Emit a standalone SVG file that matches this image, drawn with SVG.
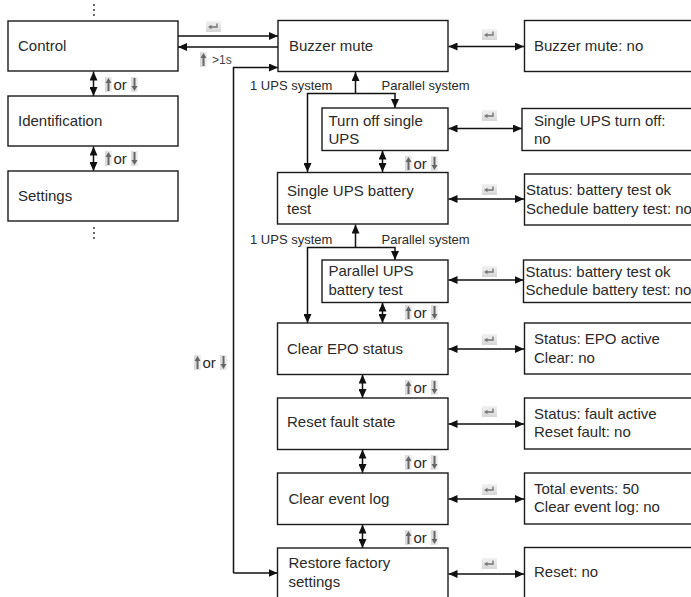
<svg xmlns="http://www.w3.org/2000/svg" width="691" height="597" viewBox="0 0 691 597">
<style>
.box{fill:#fff;stroke:#1a1a1a;stroke-width:1.4}
.t{font-family:"Liberation Sans",Arial,sans-serif;font-size:15px;fill:#2a2a2a}
.s{font-family:"Liberation Sans",Arial,sans-serif;font-size:13px;fill:#2a2a2a}
.x{font-family:"Liberation Sans",Arial,sans-serif;font-size:12px;fill:#444}
.ln{fill:none;stroke:#111;stroke-width:1.5}
.a1{marker-end:url(#ah)}
.a2{marker-start:url(#ah);marker-end:url(#ah)}
.dot{fill:#222}
</style>
<defs>
<marker id="ah" markerUnits="userSpaceOnUse" markerWidth="10" markerHeight="8" refX="9" refY="4" orient="auto-start-reverse">
<path d="M0,0 L9,4 L0,8 z" fill="#111"/>
</marker>
<linearGradient id="ig" x1="0" y1="0" x2="0" y2="1">
<stop offset="0" stop-color="#f2f2f2"/>
<stop offset="1" stop-color="#d6d6d6"/>
</linearGradient>
<linearGradient id="ih" x1="0" y1="0" x2="1" y2="0">
<stop offset="0" stop-color="#d8d8d8"/>
<stop offset="1" stop-color="#f0f0f0"/>
</linearGradient>
<g id="enter">
<rect x="0" y="0" width="15" height="11" fill="url(#ig)"/>
<path d="M11,2.5 V6 H4.5" fill="none" stroke="#777" stroke-width="1.4"/>
<path d="M2,6 L5.5,3.8 L5.5,8.2 z" fill="#777"/>
</g>
<g id="up">
<rect x="0" y="0" width="7" height="15" fill="url(#ih)"/>
<path d="M3.5,14 V5" stroke="#666" stroke-width="2"/>
<path d="M0.5,6 L3.5,1 L6.5,6 z" fill="#666"/>
</g>
<g id="dn">
<rect x="0" y="0" width="7" height="15" fill="url(#ih)"/>
<path d="M3.5,1 V10" stroke="#666" stroke-width="2"/>
<path d="M0.5,9 L3.5,14 L6.5,9 z" fill="#666"/>
</g>
<g id="updn">
<use href="#up" x="0" y="0"/>
<text class="t" x="8.5" y="13">or</text>
<use href="#dn" x="26" y="0"/>
</g>
</defs>

<g id="ellipsis-top"><circle class="dot" cx="94" cy="5" r="0.9"/><circle class="dot" cx="94" cy="10" r="0.9"/><circle class="dot" cx="94" cy="15" r="0.9"/></g>
<g id="ellipsis-bottom"><circle class="dot" cx="94" cy="228" r="0.9"/><circle class="dot" cx="94" cy="233" r="0.9"/><circle class="dot" cx="94" cy="238" r="0.9"/></g>

<g id="connectors">
<line class="ln a1" x1="178" y1="36" x2="278" y2="36"/>
<line class="ln a1" x1="278" y1="47" x2="178" y2="47"/>
<polyline class="ln a1" points="233.5,573 233.5,67.5 278,67.5"/>
<line class="ln a1" x1="233.5" y1="573" x2="277.5" y2="573"/>
<line class="ln a2" x1="93.5" y1="71.5" x2="93.5" y2="96"/>
<line class="ln a2" x1="93.5" y1="146.5" x2="93.5" y2="171"/>
<line class="ln a1" x1="355.5" y1="93.5" x2="355.5" y2="72"/>
<polyline class="ln a2" points="307.5,172 307.5,93.5 395,93.5 395,108"/>
<line class="ln a2" x1="382.5" y1="150.5" x2="382.5" y2="172"/>
<line class="ln a1" x1="355.5" y1="247.5" x2="355.5" y2="224.5"/>
<polyline class="ln a2" points="307.5,323 307.5,247.5 395,247.5 395,260"/>
<line class="ln a2" x1="382.5" y1="302.5" x2="382.5" y2="323"/>
<line class="ln a2" x1="362.5" y1="374.5" x2="362.5" y2="398"/>
<line class="ln a2" x1="362.5" y1="449.5" x2="362.5" y2="473"/>
<line class="ln a2" x1="362.5" y1="524.5" x2="362.5" y2="548"/>
<line class="ln a2" x1="448.5" y1="46.5" x2="524" y2="46.5"/>
<line class="ln a2" x1="448.5" y1="128.5" x2="522" y2="128.5"/>
<line class="ln a2" x1="448.5" y1="199" x2="524" y2="199"/>
<line class="ln a2" x1="448.5" y1="280" x2="523.5" y2="280"/>
<line class="ln a2" x1="448.5" y1="349" x2="524" y2="349"/>
<line class="ln a2" x1="448.5" y1="424" x2="524" y2="424"/>
<line class="ln a2" x1="448.5" y1="499" x2="524" y2="499"/>
<line class="ln a2" x1="448.5" y1="574" x2="524" y2="574"/>
<use href="#enter" x="206" y="21"/>
<use href="#up" x="200" y="52"/>
<text class="x" x="212" y="64">&gt;1s</text>
<text class="s" x="250" y="90">1 UPS system</text>
<text class="s" x="381.5" y="90">Parallel system</text>
<text class="s" x="250" y="244">1 UPS system</text>
<text class="s" x="381.5" y="244">Parallel system</text>
<use href="#updn" x="105" y="77"/>
<use href="#updn" x="105" y="151"/>
<use href="#updn" x="405" y="156"/>
<use href="#updn" x="405" y="305"/>
<use href="#updn" x="405" y="380"/>
<use href="#updn" x="405" y="455"/>
<use href="#updn" x="405" y="530"/>
<use href="#updn" x="194" y="355"/>
<use href="#enter" x="482" y="29"/>
<use href="#enter" x="482" y="110"/>
<use href="#enter" x="482" y="184"/>
<use href="#enter" x="482" y="266"/>
<use href="#enter" x="482" y="334"/>
<use href="#enter" x="482" y="406"/>
<use href="#enter" x="482" y="484"/>
<use href="#enter" x="482" y="558"/>
</g>

<g id="control"><rect class="box" x="8" y="21" width="170" height="50"/><text class="t" x="18" y="51">Control</text></g>
<g id="identification"><rect class="box" x="8" y="96" width="170" height="50"/><text class="t" x="18" y="126">Identification</text></g>
<g id="settings"><rect class="box" x="8" y="171" width="170" height="50"/><text class="t" x="18" y="201">Settings</text></g>

<g id="buzzer-mute"><rect class="box" x="278" y="20.5" width="170" height="51"/><text class="t" x="289" y="51">Buzzer mute</text></g>
<g id="turn-off-single"><rect class="box" x="322" y="108" width="126" height="42.5"/><text class="t" x="328.5" y="126">Turn off single</text><text class="t" x="328.5" y="144">UPS</text></g>
<g id="single-battery"><rect class="box" x="277.5" y="172.5" width="170.5" height="51.5"/><text class="t" x="287" y="196">Single UPS battery</text><text class="t" x="287" y="214">test</text></g>
<g id="parallel-battery"><rect class="box" x="322" y="260" width="126" height="42.5"/><text class="t" x="328.5" y="276">Parallel UPS</text><text class="t" x="328.5" y="294.5">battery test</text></g>
<g id="clear-epo"><rect class="box" x="277.5" y="323" width="170.5" height="51.5"/><text class="t" x="287" y="353.5">Clear EPO status</text></g>
<g id="reset-fault"><rect class="box" x="277.5" y="398" width="170.5" height="51.5"/><text class="t" x="287" y="427">Reset fault state</text></g>
<g id="clear-log"><rect class="box" x="277.5" y="473" width="170.5" height="51.5"/><text class="t" x="288.5" y="503.5">Clear event log</text></g>
<g id="restore"><rect class="box" x="277.5" y="548" width="170.5" height="60"/><text class="t" x="288.5" y="568">Restore factory</text><text class="t" x="288.5" y="586.5">settings</text></g>

<g id="buzzer-mute-no"><rect class="box" x="524.5" y="20.5" width="180" height="51"/><text class="t" x="534" y="51">Buzzer mute: no</text></g>
<g id="single-turn-off"><rect class="box" x="522" y="108.5" width="180" height="42"/><text class="t" x="534" y="125.5">Single UPS turn off:</text><text class="t" x="534" y="143.5">no</text></g>
<g id="status-single"><rect class="box" x="524.5" y="174" width="180" height="51"/><text class="t" x="526" y="195">Status: battery test ok</text><text class="t" x="526" y="213.5">Schedule battery test: no</text></g>
<g id="status-parallel"><rect class="box" x="523.5" y="260" width="180" height="42.5"/><text class="t" x="525.5" y="277">Status: battery test ok</text><text class="t" x="525.5" y="295">Schedule battery test: no</text></g>
<g id="status-epo"><rect class="box" x="524.5" y="323" width="180" height="51"/><text class="t" x="534" y="343.5">Status: EPO active</text><text class="t" x="534" y="362.5">Clear: no</text></g>
<g id="status-fault"><rect class="box" x="524.5" y="398" width="180" height="51"/><text class="t" x="534" y="418.5">Status: fault active</text><text class="t" x="534" y="437">Reset fault: no</text></g>
<g id="total-events"><rect class="box" x="524.5" y="473" width="180" height="51"/><text class="t" x="534" y="493.5">Total events: 50</text><text class="t" x="534" y="512">Clear event log: no</text></g>
<g id="reset-no"><rect class="box" x="524.5" y="547.5" width="180" height="60"/><text class="t" x="534" y="576.5">Reset: no</text></g>
</svg>
